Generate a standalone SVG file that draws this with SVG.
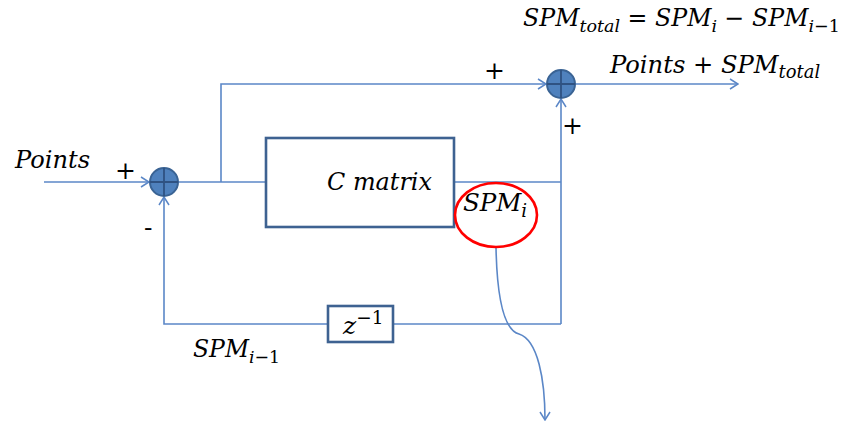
<svg xmlns="http://www.w3.org/2000/svg" width="843" height="424" viewBox="0 0 843 424">
<defs>
<style>
.ln{fill:none;stroke:#5B87C7;stroke-width:1.6}
.box{fill:#fff;stroke:#3E6291;stroke-width:2.6}
.sum{fill:#4F81BD;stroke:#3A6394;stroke-width:2}
.cr{stroke:#2F5282;stroke-width:1.8}
.t{font-family:"DejaVu Serif","Liberation Serif",serif;font-style:italic;fill:#000;font-size:25px}
.s{font-size:0.74em}
.u{font-style:normal}
.pm{font-family:"DejaVu Serif","Liberation Serif",serif;font-size:25px;fill:#000}
</style>
<marker id="ar" markerWidth="10" markerHeight="12" refX="9" refY="6" orient="auto" markerUnits="userSpaceOnUse">
<path d="M1,1 L9,6 L1,11" fill="none" stroke="#5B87C7" stroke-width="1.5"/>
</marker>
</defs>
<rect width="843" height="424" fill="#fff"/>
<g id="connectors">
<path class="ln" d="M44,182 H149" marker-end="url(#ar)"/>
<path class="ln" d="M178,182 H266"/>
<path class="ln" d="M221,182 V84 H546" marker-end="url(#ar)"/>
<path class="ln" d="M575,84 H738" marker-end="url(#ar)"/>
<path class="ln" d="M454,182 H561"/>
<path class="ln" d="M561,324 V99" marker-end="url(#ar)"/>
<path class="ln" d="M561,324 H393"/>
<path class="ln" d="M328,324 H164 V197" marker-end="url(#ar)"/>
<path class="ln" d="M496,247 C497,300 504,330 519,334 C538,340 545,380 545,420" marker-end="url(#ar)"/>
</g>
<g id="sum1">
<circle class="sum" cx="164" cy="182" r="14"/>
<path class="cr" d="M150,182 H178 M164,168 V196"/>
</g>
<g id="sum2">
<circle class="sum" cx="561" cy="84" r="14"/>
<path class="cr" d="M547,84 H575 M561,70 V98"/>
</g>
<g id="cmatrix">
<rect class="box" x="266" y="138" width="188" height="89"/>
<text class="t" x="327" y="190" textLength="105" lengthAdjust="spacingAndGlyphs">C matrix</text>
</g>
<g id="zinv">
<rect class="box" x="328" y="306" width="65" height="36"/>
<text class="t" x="343" y="334">z<tspan class="s u" dy="-10">−1</tspan></text>
</g>
<g id="spmi">
<ellipse cx="496" cy="215" rx="41" ry="32" fill="none" stroke="#FF0000" stroke-width="2.6"/>
<text class="t" x="463" y="211" style="font-size:24.5px">SPM<tspan class="s" dy="6">i</tspan></text>
</g>
<g id="labels">
<text class="t" x="15" y="168" textLength="75" lengthAdjust="spacingAndGlyphs">Points</text>
<text class="pm" x="115" y="179">+</text>
<text class="pm" x="144" y="236">-</text>
<text class="pm" x="484" y="79">+</text>
<text class="pm" x="562" y="134">+</text>
<text class="t" x="193" y="357" style="font-size:23.5px">SPM<tspan class="s" dy="6">i</tspan><tspan class="s u">−1</tspan></text>
<text class="t" x="610" y="73" style="font-size:24.2px">Points <tspan class="u">+</tspan> SPM<tspan class="s" dy="5">total</tspan></text>
<text class="t" x="523" y="26" style="font-size:23.7px">SPM<tspan class="s" dy="6">total</tspan><tspan class="u" dy="-6"> = </tspan>SPM<tspan class="s" dy="6">i</tspan><tspan class="u" dy="-6"> − </tspan>SPM<tspan class="s" dy="6">i</tspan><tspan class="s u">−1</tspan></text>
</g>
</svg>
